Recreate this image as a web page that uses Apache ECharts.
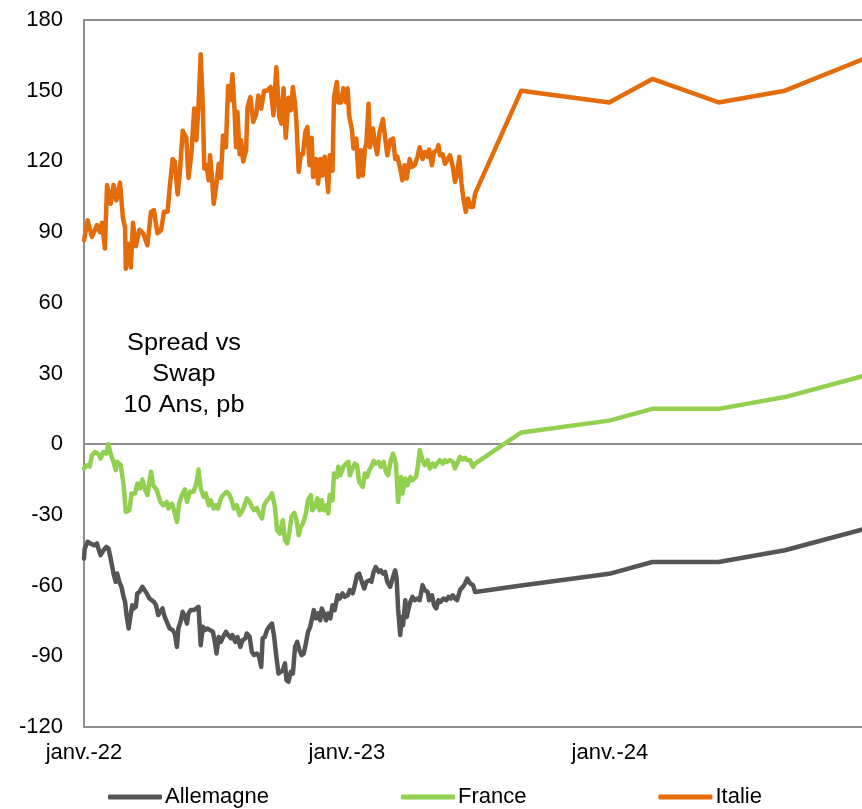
<!DOCTYPE html>
<html lang="fr">
<head>
<meta charset="utf-8">
<title>Spread vs Swap 10 Ans</title>
<script src="https://cdn.jsdelivr.net/npm/echarts@6/dist/echarts.min.js"></script>
<style>
  html, body { margin: 0; padding: 0; background: #ffffff; }
  #chart { width: 862px; height: 809px; }
</style>
</head>
<body>
<div id="chart"></div>
<script>
// Axe des x : nombre de jours depuis le 1er janvier 2022
const tickLabels = ['janv.-22', 'janv.-23', 'janv.-24'];
const seriesNames = ['Allemagne', 'France', 'Italie'];
const annotationLines = ['Spread vs', 'Swap', '10 Ans, pb'];

// Historique quotidien (jours, pb)
const allemagneJours = [0, 1, 5, 9, 14, 18, 20, 23, 27, 31, 34, 37, 41, 44, 46, 49, 52, 55, 57, 59, 62, 64, 67, 69, 72, 74, 77, 81, 83, 87, 91, 94, 97, 100, 103, 106, 109, 112, 116, 119, 123, 126, 129, 131, 134, 137, 140, 143, 145, 148, 152, 156, 159, 162, 165, 168, 171, 175, 179, 182, 184, 187, 190, 193, 197, 200, 204, 206, 210, 213, 217, 220, 224, 226, 230, 233, 236, 240, 243, 246, 248, 251, 254, 257, 261, 264, 267, 270, 272, 276, 279, 281, 284, 287, 290, 293, 296, 299, 302, 305, 308, 311, 314, 317, 319, 322, 325, 328, 330, 333, 336, 339, 342, 345, 348, 352, 355, 359, 362, 366, 369, 373, 376, 379, 382, 385, 389, 392, 396, 399, 402, 405, 409, 412, 415, 418, 421, 425, 429, 432, 434, 436, 439, 441, 443, 446, 448, 450, 453, 456, 459, 463, 466, 470, 473, 477, 479, 483, 486, 489, 492, 495, 499, 503, 506, 509, 512, 515, 518, 522, 526, 529, 532, 536, 540, 543];
const allemagneValeurs = [-48.5, -44.3, -41.4, -42.1, -42.9, -42.1, -44.3, -47.1, -45, -43.6, -44.3, -48.5, -54.9, -58.4, -54.9, -58.4, -60.5, -64.8, -66.9, -72.5, -78.2, -73.9, -68.3, -69.7, -69, -63.3, -62.7, -60.5, -61.2, -63.3, -65.5, -66.2, -66.9, -68.3, -72.5, -71.1, -69.7, -73.3, -76.1, -78.2, -78.9, -80.3, -86, -78.2, -75.4, -71.1, -73.3, -76.1, -71.8, -70.4, -70.4, -69.7, -69, -85.3, -77.5, -78.9, -78.2, -78.9, -79.6, -84.6, -88.8, -81.8, -83.9, -81.8, -79.6, -81, -82.4, -81, -83.9, -81.8, -86, -83.2, -82.4, -80.3, -81.8, -88.1, -89.5, -88.8, -90.2, -94.5, -82.4, -81.8, -78.9, -77.5, -76.1, -81.8, -90.2, -97.3, -98, -95.9, -93, -100.1, -100.8, -96.6, -97.3, -86, -83.9, -87.4, -89.5, -88.8, -84.6, -79.6, -77.5, -73.3, -70.4, -73.9, -71.8, -74.7, -69.7, -71.8, -74.7, -71.8, -73.9, -68.3, -70.4, -64.1, -65.5, -63.3, -64.8, -64.1, -61.9, -63.3, -59.8, -55.6, -54.9, -57.7, -61.2, -58.4, -57.7, -58.4, -54.2, -52.1, -54.2, -53.5, -54.9, -54.2, -58.4, -60.5, -56.3, -53.5, -57, -69.7, -81, -73.3, -76.8, -66.2, -73.3, -70.4, -66.9, -64.8, -66.2, -65.5, -66.2, -59.8, -61.9, -62.7, -66.2, -64.1, -68.3, -69.7, -66.2, -66.9, -65.5, -66.2, -64.8, -65.5, -64.1, -65.5, -66.2, -61.9, -60.5, -59.1, -57, -59.1, -59.8, -62.7, -61.9];

const franceJours = [0, 4, 8, 11, 15, 20, 23, 27, 31, 34, 37, 41, 44, 46, 51, 55, 58, 63, 66, 71, 74, 78, 81, 85, 88, 93, 96, 101, 106, 110, 115, 117, 122, 125, 129, 132, 136, 140, 143, 147, 152, 156, 159, 162, 166, 169, 173, 176, 180, 183, 186, 190, 193, 198, 202, 205, 208, 212, 216, 219, 222, 226, 230, 233, 236, 240, 243, 247, 250, 254, 257, 261, 265, 268, 272, 276, 279, 282, 285, 288, 292, 295, 298, 301, 304, 308, 311, 315, 317, 321, 324, 327, 330, 333, 337, 339, 341, 345, 347, 351, 353, 356, 360, 364, 367, 369, 373, 376, 379, 382, 387, 390, 393, 396, 399, 402, 405, 409, 412, 416, 419, 422, 426, 429, 433, 436, 440, 442, 446, 449, 453, 456, 461, 464, 466, 470, 473, 477, 480, 484, 487, 490, 494, 498, 501, 504, 508, 512, 515, 518, 522, 526, 529, 532, 536, 540, 543];
const franceValeurs = [-10.3, -8.9, -9.5, -4.7, -3.3, -4.2, -6.1, -3.3, -4, 0, -4.2, -7.5, -11, -7.5, -8.9, -17.4, -28.7, -28, -20.9, -20.9, -16.7, -18.8, -15, -19.5, -21.6, -11.7, -17.4, -19.5, -24.5, -25.9, -24.5, -27.3, -25.2, -28, -33, -25.2, -21.6, -19.2, -24.5, -20.2, -20.2, -16.7, -10.7, -18.8, -22.3, -20.9, -25.9, -23.8, -27.3, -25.9, -27.3, -23, -21.6, -20.2, -21.6, -23.8, -27.3, -25.9, -30.1, -28.7, -26.6, -23, -24.5, -26.6, -28, -27, -29.4, -31.5, -25.9, -23.8, -23, -20.9, -26.6, -36.5, -37.9, -32.2, -40.7, -42.1, -37.9, -30.8, -29.1, -32.2, -38.6, -35.1, -33.6, -29.4, -23.8, -21.6, -28, -26.6, -23, -28, -23.8, -28, -25.9, -29.4, -21.6, -23.8, -12.4, -13.9, -9.6, -13.2, -9.6, -8.2, -7.5, -13.2, -10.3, -8.2, -8.9, -16, -18.1, -12.4, -13.9, -11, -9.6, -7.1, -8.2, -7.5, -9.6, -7.5, -11.7, -13.2, -6.8, -4, -8.2, -24.5, -13.9, -20.9, -14.6, -17.4, -13.9, -15.3, -13.9, -8.2, -2.5, -6.8, -8.9, -6.8, -10.3, -8.2, -9.6, -8.2, -6.8, -8.2, -6.8, -7.5, -6.8, -7.5, -10.3, -8.2, -5.4, -6.5, -5.8, -6.8, -6.8, -9.6, -8.2];

const italieJours = [0, 5, 11, 18, 22, 25, 29, 32, 37, 41, 45, 50, 54, 57, 58, 62, 65, 68, 72, 77, 82, 88, 93, 97, 102, 107, 111, 116, 119, 123, 126, 130, 133, 137, 142, 145, 149, 153, 156, 159, 162, 165, 167, 170, 173, 175, 178, 180, 184, 187, 190, 193, 197, 200, 203, 206, 209, 211, 213, 216, 218, 221, 225, 227, 231, 235, 239, 242, 246, 250, 254, 259, 263, 267, 271, 274, 277, 280, 284, 287, 290, 293, 295, 298, 301, 304, 307, 310, 313, 316, 318, 322, 325, 328, 331, 334, 336, 339, 341, 345, 347, 351, 353, 357, 360, 364, 366, 368, 372, 374, 378, 381, 384, 387, 390, 392, 395, 397, 401, 404, 407, 410, 415, 418, 421, 425, 429, 432, 435, 439, 442, 445, 448, 452, 455, 459, 463, 466, 470, 473, 477, 479, 483, 486, 490, 492, 494, 498, 501, 504, 508, 512, 515, 518, 521, 524, 527, 530, 533, 537, 540, 543];
const italieValeurs = [86.5, 95, 88, 93, 90, 94, 83, 110, 102, 110, 103.5, 111, 96, 92, 74.5, 85, 75, 94, 84, 91, 89.6, 84.4, 98.6, 99.3, 89.5, 90.8, 98.6, 98.6, 109, 121, 120, 106, 115, 133, 130, 113, 123, 142.4, 129, 143.8, 165.5, 143, 117, 118.4, 112, 122.6, 112, 102, 110.6, 119, 113, 131, 126, 152, 146, 157, 141.7, 126, 141, 123, 129, 120, 124.7, 143, 147.3, 136.7, 140, 148, 142.4, 150, 150, 151.6, 139.6, 160, 139, 136, 151, 130, 147, 141.7, 151.6, 144.5, 136, 115.5, 123, 123, 132, 134.6, 118.4, 130, 113.4, 121, 110.6, 121, 114, 122, 117, 107, 122.6, 116, 147, 153.7, 145, 145, 151, 145, 151, 139.6, 133.2, 125.5, 129.7, 113.4, 124.7, 114, 125.5, 127.6, 144.5, 126, 134, 127.6, 123, 132, 138, 130, 122.6, 129, 129.7, 121, 122, 117, 112, 118.4, 112.7, 121, 117.6, 118.4, 122, 126, 121, 124, 122, 125, 118.4, 124, 124.7, 126.9, 122.6, 123, 119, 120.5, 122.6, 117.6, 111.3, 114.8, 122, 110.6, 103.5, 98.6, 104.2, 100.7, 100.7, 106.4];

// Prévisions : fin août 23, fin déc. 23, fin fév. 24, fin mai 24, fin août 24, fin déc. 24
const previsionJours = [607, 729, 789, 881, 973, 1095];
const allemagnePrevisions = [-60, -55, -50, -50, -45, -35];
const francePrevisions = [5, 10, 15, 15, 20, 30];
const italiePrevisions = [150, 145, 155, 145, 150, 165];

const colors = ['#555555', '#92D050', '#E46C0A'];
const FONT = '"Liberation Sans", Arial, Helvetica, sans-serif';
const FRAME = '#8f8f8f';
const X_MAX = 1080;

function pairs(days, values) {
  return days.map((d, i) => [d, values[i]]);
}

const seriesData = [
  pairs(allemagneJours, allemagneValeurs).concat(pairs(previsionJours, allemagnePrevisions)),
  pairs(franceJours, franceValeurs).concat(pairs(previsionJours, francePrevisions)),
  pairs(italieJours, italieValeurs).concat(pairs(previsionJours, italiePrevisions))
];

const chart = echarts.init(document.getElementById('chart'), null, { renderer: 'canvas' });

const series = seriesNames.map((name, i) => ({
  name: name,
  type: 'line',
  data: seriesData[i],
  showSymbol: false,
  symbol: 'none',
  clip: true,
  animation: false,
  lineStyle: { color: colors[i], width: 4.5, join: 'round', cap: 'round' },
  itemStyle: { color: colors[i] },
  z: 3 + i
}));

// Ligne du zéro
series[0].markLine = {
  silent: true,
  symbol: 'none',
  animation: false,
  label: { show: false },
  lineStyle: { color: FRAME, width: 2, type: 'solid' },
  data: [{ yAxis: 0 }],
  z: 1
};

const frameLine = { show: true, onZero: false, lineStyle: { color: FRAME, width: 2 } };

chart.setOption({
  backgroundColor: '#ffffff',
  animation: false,
  grid: {
    left: 84,
    right: 0,
    top: 20,
    bottom: 82,
    show: false,
    containLabel: false
  },
  xAxis: [{
    type: 'value',
    position: 'bottom',
    min: 0,
    max: X_MAX,
    interval: 365,
    axisLine: frameLine,
    axisTick: { show: false },
    splitLine: { show: false },
    axisLabel: {
      margin: 15,
      color: '#000000',
      fontSize: 22,
      fontFamily: FONT,
      showMaxLabel: false,
      formatter: function (v) {
        if (v % 365 !== 0) return '';
        const label = tickLabels[Math.round(v / 365)];
        return label || '';
      }
    }
  }, {
    // Bord supérieur du cadre
    type: 'value',
    position: 'top',
    min: 0,
    max: X_MAX,
    axisLine: frameLine,
    axisTick: { show: false },
    axisLabel: { show: false },
    splitLine: { show: false }
  }],
  yAxis: {
    type: 'value',
    min: -120,
    max: 180,
    interval: 30,
    axisLine: frameLine,
    axisTick: { show: false },
    splitLine: { show: false },
    axisLabel: {
      margin: 21,
      color: '#000000',
      fontSize: 22,
      fontFamily: FONT
    }
  },
  legend: {
    data: seriesNames,
    left: 108,
    top: 786,
    padding: 0,
    icon: 'roundRect',
    itemWidth: 54,
    itemHeight: 5,
    itemGap: 132,
    textStyle: { color: '#000000', fontSize: 22, fontFamily: FONT, padding: [0, 0, 0, -2] }
  },
  graphic: [{
    type: 'text',
    x: 184,
    y: 328,
    scaleX: 1.1,
    silent: true,
    style: {
      text: annotationLines.join('\n'),
      fill: '#000000',
      fontSize: 23,
      fontFamily: FONT,
      align: 'center',
      verticalAlign: 'top',
      lineHeight: 31
    }
  }],
  series: series
});
</script>
</body>
</html>
